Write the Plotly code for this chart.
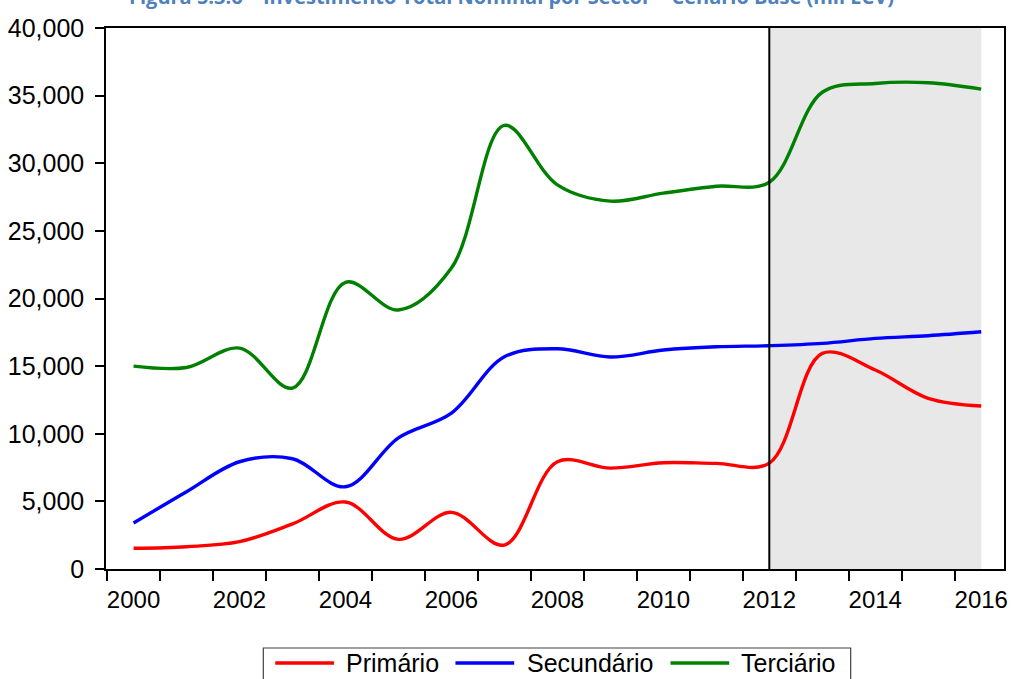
import plotly.graph_objects as go

# Annual investment by sector (mil ECV), 2000-2016
years = list(range(2000, 2017))
primario = [1530, 1650, 2020, 3330, 4950, 2190, 4190, 1770, 7930, 7460,
            7860, 7810, 7830, 15940, 14710, 12620, 12050]
secundario = [3400, 5710, 7930, 8150, 6080, 9700, 11530, 15690, 16280, 15670,
              16190, 16430, 16510, 16680, 17050, 17250, 17540]
terciario = [15000, 14900, 16330, 13380, 21200, 19150, 22250, 32800, 28400, 27200,
             27790, 28300, 28600, 35250, 35900, 35950, 35480]

series_names = ["Primário", "Secundário", "Terciário"]
series_values = [primario, secundario, terciario]
series_colors = ["#ff0000", "#0000ff", "#008000"]

y_ticks = [0, 5000, 10000, 15000, 20000, 25000, 30000, 35000, 40000]
x_label_years = list(range(2000, 2017, 2))

forecast_start = 2012
last_year = 2016

title_text = "Figura 5.3.6 – Investimento Total Nominal por Sector – Cenário Base (mil ECV)"

# each annual observation sits in the middle of its year interval
x_pos = [y + 0.5 for y in years]

fig = go.Figure()
for name, vals, col in zip(series_names, series_values, series_colors):
    fig.add_trace(go.Scatter(
        x=x_pos, y=vals, name=name, mode="lines",
        line=dict(color=col, width=3.4, shape="spline", smoothing=1.0),
        showlegend=False, hoverinfo="x+y",
    ))

shapes = [
    # forecast period shading
    dict(type="rect", xref="x", yref="y", x0=forecast_start + 0.5, x1=last_year + 0.5,
         y0=0, y1=40000, fillcolor="#e8e8e8", line=dict(width=0), layer="below"),
    # forecast start marker
    dict(type="line", xref="x", yref="y", x0=forecast_start + 0.5, x1=forecast_start + 0.5,
         y0=0, y1=40000, line=dict(color="black", width=2)),
]

# legend drawn in paper coordinates below the plot
W, H = 1013, 679
L, R, T, B = 106, 5, 28, 110
pw, ph = W - L - R, H - T - B


def px(x):
    return (x - L) / pw


def py(y):
    return (H - B - y) / ph


shapes.append(dict(type="rect", xref="paper", yref="paper",
                   x0=px(264), x1=px(854), y0=py(695), y1=py(648),
                   line=dict(color="#404040", width=1.2), fillcolor="white"))

annotations = []
leg_items = [(276, 335, 345), (457, 516, 527), (673, 732, 742)]
for (lx0, lx1, tx), name, col in zip(leg_items, series_names, series_colors):
    shapes.append(dict(type="line", xref="paper", yref="paper",
                       x0=px(lx0), x1=px(lx1), y0=py(663), y1=py(663),
                       line=dict(color=col, width=3.4)))
    annotations.append(dict(xref="paper", yref="paper", x=px(tx), y=py(663),
                            xanchor="left", yanchor="middle", showarrow=False,
                            text=name, font=dict(family="Liberation Sans", size=25, color="black")))

annotations.append(dict(xref="paper", yref="paper", x=px(513), y=py(-3),
                        xanchor="center", yanchor="middle", showarrow=False,
                        text="<b>" + title_text + "</b>",
                        font=dict(family="Open Sans", size=20, color="#4f81bd")))

fig.update_layout(
    width=W, height=H,
    margin=dict(l=L, r=R, t=T, b=B),
    paper_bgcolor="white", plot_bgcolor="white",
    shapes=shapes, annotations=annotations,
    font=dict(family="Liberation Sans", color="black"),
    xaxis=dict(
        range=[1999.98, 2016.93],
        tickmode="array", tickvals=[y + 0.5 for y in x_label_years],
        ticktext=[str(y) for y in x_label_years],
        ticks="", tickfont=dict(size=24, color="black"),
        ticklabelstandoff=8,
        minor=dict(tickmode="linear", tick0=2000, dtick=1, ticks="outside",
                   ticklen=10, tickwidth=1.5, tickcolor="black"),
        showgrid=False, zeroline=False,
        showline=True, linecolor="black", linewidth=1.5, mirror=True,
    ),
    yaxis=dict(
        range=[0, 40000],
        tickmode="array", tickvals=y_ticks, tickformat=",",
        ticks="outside", ticklen=9, tickwidth=1.5, tickcolor="black",
        tickfont=dict(size=25, color="black"),
        ticklabelstandoff=6,
        showgrid=False, zeroline=False,
        showline=True, linecolor="black", linewidth=1.5, mirror=True,
    ),
)

fig.write_html("out.html")
